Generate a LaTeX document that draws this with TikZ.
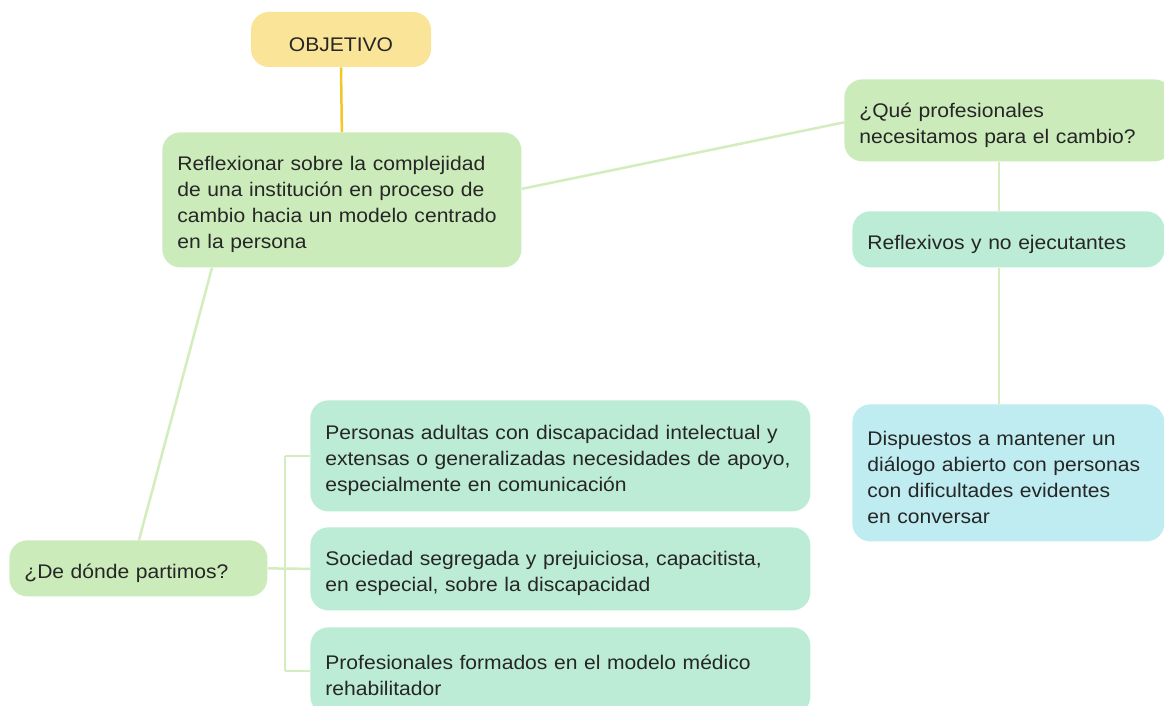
\documentclass[tikz,border=0pt]{standalone}
\usepackage{fontspec}
\setmainfont{Liberation Sans}[FakeStretch=1.07]
\usepackage{tikz}
\definecolor{objfill}{RGB}{249,228,152}
\definecolor{objline}{RGB}{242,200,40}
\definecolor{greenfill}{RGB}{203,236,186}
\definecolor{mintfill}{RGB}{188,236,214}
\definecolor{cyanfill}{RGB}{190,236,240}
\definecolor{linkcol}{RGB}{212,237,190}
\definecolor{txt}{RGB}{38,38,38}
\tikzset{every picture/.style={line width=0.75pt}}
\tikzset{
  mapbox/.style={rounded corners=18pt, draw=none, text=txt, anchor=north west,
    align=left, inner xsep=15pt, inner ysep=0pt,
    font=\fontsize{19.7}{26}\selectfont,
    execute at begin node={\rule{0pt}{24pt}}},
  link/.style={draw=linkcol, line width=2.5pt},
}

\begin{document}
\begin{tikzpicture}[x=1pt,y=1pt,yscale=-1]
\clip (0,0) rectangle (1164,706);
\fill[white] (0,0) rectangle (1164,706);

%Shape: Rounded Rect [id:objetivo]
\node[mapbox, fill=objfill, anchor=center, align=center, text width=150pt, minimum height=55pt] (obj) at (341,39.5) {OBJETIVO};
%Shape: Rounded Rect [id:reflexionar]
\node[mapbox, fill=greenfill, text width=329pt, minimum height=135pt] (reflex) at (162,132) {Reflexionar sobre la complejidad\\de una institución en proceso de\\cambio hacia un modelo centrado\\en la persona};
%Shape: Rounded Rect [id:que]
\node[mapbox, fill=greenfill, text width=298pt, minimum height=82pt] (que) at (844,79) {¿Qué profesionales\\necesitamos para el cambio?};
%Shape: Rounded Rect [id:reflexivos]
\node[mapbox, fill=mintfill, text width=282pt, minimum height=56pt] (refl) at (852,211) {Reflexivos y no ejecutantes};
%Shape: Rounded Rect [id:dispuestos]
\node[mapbox, fill=cyanfill, text width=282pt, minimum height=137pt] (disp) at (852,404) {Dispuestos a mantener un\\diálogo abierto con personas\\con dificultades evidentes\\en conversar};
%Shape: Rounded Rect [id:partimos]
\node[mapbox, fill=greenfill, text width=228pt, minimum height=56pt] (part) at (9,540) {¿De dónde partimos?};
%Shape: Rounded Rect [id:personas]
\node[mapbox, fill=mintfill, text width=470pt, minimum height=111pt] (pers) at (310,400) {Personas adultas con discapacidad intelectual y\\extensas o generalizadas necesidades de apoyo,\\especialmente en comunicación};
%Shape: Rounded Rect [id:sociedad]
\node[mapbox, fill=mintfill, text width=470pt, minimum height=83pt] (soc) at (310,527) {Sociedad segregada y prejuiciosa, capacitista,\\en especial, sobre la discapacidad};
%Shape: Rounded Rect [id:profesionales]
\node[mapbox, fill=mintfill, text width=470pt, minimum height=87pt] (prof) at (310,627) {Profesionales formados en el modelo médico\\rehabilitador};

\coordinate (brk) at (285,0);
\coordinate (spine) at (999,0);

%Straight Lines
\draw[draw=objline, line width=2.5pt] (obj.south) -- (reflex.north);
\draw[link] ([yshift=-11pt]reflex.east) -- ([yshift=2pt]que.west);
\draw[link] ([xshift=50pt]reflex.south west) -- ([xshift=130pt]part.north west);
\draw[link] (que.south -| spine) -- (refl.north -| spine);
\draw[link] (refl.south -| spine) -- (disp.north -| spine);
%Bracket
\draw[link] (part.east) -- (soc.west);
\draw[link] (pers.west -| brk) -- (prof.west -| brk);
\draw[link] (pers.west -| brk) -- (pers.west);
\draw[link] (prof.west -| brk) -- (prof.west);

\end{tikzpicture}
\end{document}
